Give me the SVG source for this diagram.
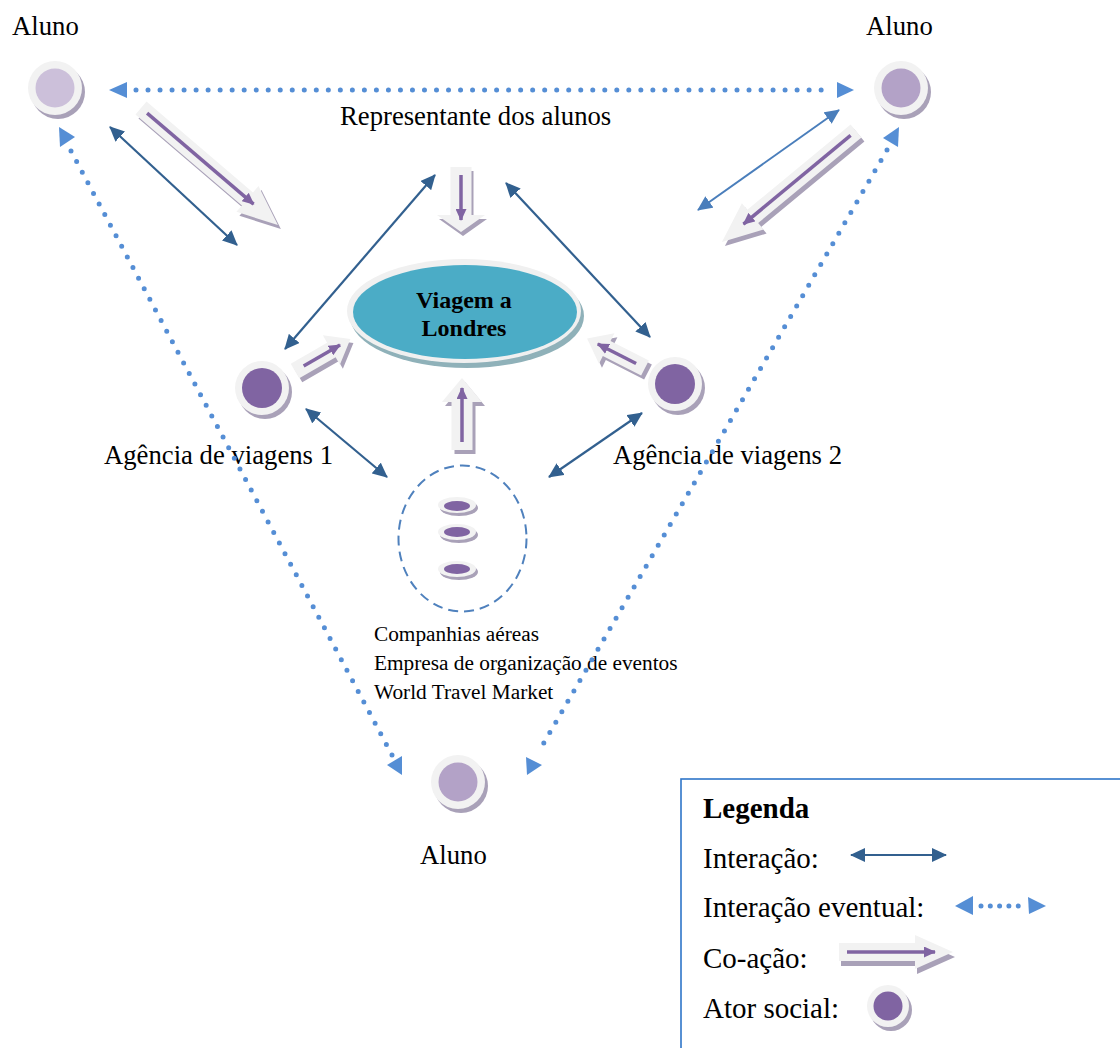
<svg xmlns="http://www.w3.org/2000/svg" width="1120" height="1048" viewBox="0 0 1120 1048">
<style>
.t{font-family:"Liberation Serif","Times New Roman",serif;fill:#000}
.lbl{font-size:26.7px}
.lst{font-size:21.3px}
.lg{font-size:29px}
.ring{fill:#f2f2f2}
.sh{fill:#a9a1b8}
.ca{fill:#f2f2f2}
.cas{fill:#a9a1b8}
.cal{stroke:#8064a2;stroke-width:3.5;fill:none;marker-end:url(#pm)}
.ia{stroke:#32608f;stroke-width:2.2;fill:none;marker-start:url(#ah);marker-end:url(#ah)}
.ia2{stroke:#4a7ebb;stroke-width:2;fill:none;marker-start:url(#ah2);marker-end:url(#ah2)}
.ev{stroke:#558ed5;stroke-width:5;stroke-linecap:round;fill:none}
.evh{fill:#558ed5}
</style>
<defs>
<marker id="ah" viewBox="0 0 15 14" refX="14" refY="7" markerWidth="15" markerHeight="14" markerUnits="userSpaceOnUse" orient="auto-start-reverse">
<path d="M0,0 L15,7 L0,14 z" fill="#32608f"/>
</marker>
<marker id="ah2" viewBox="0 0 15 14" refX="14" refY="7" markerWidth="15" markerHeight="14" markerUnits="userSpaceOnUse" orient="auto-start-reverse">
<path d="M0,0 L15,7 L0,14 z" fill="#4a7ebb"/>
</marker>
<marker id="pm" viewBox="0 0 12 11" refX="11" refY="5.5" markerWidth="12" markerHeight="11" markerUnits="userSpaceOnUse" orient="auto">
<path d="M0,0 L12,5.5 L0,11 z" fill="#8064a2"/>
</marker>
</defs>

<g id="viagem">
<ellipse cx="467" cy="316" rx="117" ry="52" fill="#8fb1b9"/>
<ellipse cx="464" cy="311" rx="117" ry="52" fill="#f0f0f0"/>
<ellipse cx="465" cy="312" rx="112" ry="47" fill="#4bacc6"/>
<text class="t" x="464" y="308" font-size="24" font-weight="bold" text-anchor="middle">Viagem a</text>
<text class="t" x="464" y="336" font-size="24" font-weight="bold" text-anchor="middle">Londres</text>
</g>

<g id="aluno-tl">
<circle cx="58" cy="92" r="27" class="sh"/>
<circle cx="55" cy="88" r="27" class="ring"/>
<circle cx="55" cy="88" r="19.5" fill="#ccc0da"/>
<text class="t lbl" x="12" y="35">Aluno</text>
</g>
<g id="aluno-tr">
<circle cx="904" cy="92" r="27" class="sh"/>
<circle cx="901" cy="88" r="27" class="ring"/>
<circle cx="901" cy="88" r="19.5" fill="#b3a2c7"/>
<text class="t lbl" x="866" y="35">Aluno</text>
</g>
<g id="aluno-b">
<circle cx="461" cy="786" r="27" class="sh"/>
<circle cx="458" cy="782" r="27" class="ring"/>
<circle cx="458" cy="782" r="19.5" fill="#b3a2c7"/>
<text class="t lbl" x="420" y="864">Aluno</text>
</g>
<g id="representante">
<text class="t lbl" x="340" y="125">Representante dos alunos</text>
</g>
<g id="agencia1">
<circle cx="265" cy="392" r="27" class="sh"/>
<circle cx="262" cy="388" r="27" class="ring"/>
<circle cx="262" cy="388" r="20" fill="#8064a2"/>
<text class="t lbl" x="104" y="464">Agência de viagens 1</text>
</g>
<g id="agencia2">
<circle cx="678" cy="388" r="27" class="sh"/>
<circle cx="675" cy="384" r="27" class="ring"/>
<circle cx="675" cy="384" r="20" fill="#8064a2"/>
<text class="t lbl" x="613" y="464">Agência de viagens 2</text>
</g>
<g id="empresas">
<ellipse cx="462.5" cy="538.5" rx="64" ry="73" fill="none" stroke="#4f81bd" stroke-width="2" stroke-dasharray="10 6"/>
<ellipse cx="459" cy="508" rx="19" ry="8" class="sh"/>
<ellipse cx="457" cy="505" rx="19" ry="8" class="ring"/>
<ellipse cx="457" cy="506" rx="13" ry="5" fill="#8064a2"/>
<ellipse cx="459" cy="535" rx="19" ry="8" class="sh"/>
<ellipse cx="457" cy="532" rx="19" ry="8" class="ring"/>
<ellipse cx="457" cy="532" rx="13" ry="5" fill="#8064a2"/>
<ellipse cx="459" cy="572" rx="19" ry="8" class="sh"/>
<ellipse cx="457" cy="569" rx="19" ry="8" class="ring"/>
<ellipse cx="457" cy="569" rx="13" ry="5" fill="#8064a2"/>
<text class="t lst" x="374" y="641">Companhias aéreas</text>
<text class="t lst" x="374" y="670">Empresa de organização de eventos</text>
<text class="t lst" x="374" y="699">World Travel Market</text>
</g>

<g id="connectors">
<!-- eventual interactions -->
<line class="ev" x1="136" y1="90" x2="833" y2="90" stroke-dasharray="0 12.02"/>
<polygon class="evh" points="109,90 127,82 127,98"/>
<polygon class="evh" points="854,90 837,82 837,98"/>
<line class="ev" x1="71" y1="151" x2="392" y2="755" stroke-dasharray="0 12"/>
<polygon class="evh" points="59,127 60,147 75,137"/>
<polygon class="evh" points="387,765 402,756 402,775"/>
<line class="ev" x1="887" y1="150" x2="538" y2="753" stroke-dasharray="0 12.02"/>
<polygon class="evh" points="883,138 899,127 898,147"/>
<polygon class="evh" points="526,757 527,775 542,765"/>
<!-- interactions -->
<line class="ia" x1="110" y1="127" x2="237" y2="245"/>
<line class="ia2" x1="839" y1="110" x2="698" y2="210"/>
<line class="ia" x1="285" y1="349" x2="435" y2="175"/>
<line class="ia" x1="506" y1="183" x2="650" y2="337"/>
<line class="ia" x1="306" y1="409" x2="387" y2="477"/>
<line class="ia" x1="549" y1="477" x2="642" y2="413"/>
<!-- co-actions -->
<g transform="translate(3,4) translate(141,108) rotate(40.5)"><polygon class="cas" points="0,-8.5 140,-8.5 140,-17 180,0 140,17 140,8.5 0,8.5"/></g>
<g transform="translate(141,108) rotate(40.5)"><polygon class="ca" points="0,-8.5 140,-8.5 140,-17 180,0 140,17 140,8.5 0,8.5"/><line class="cal" x1="8" y1="0" x2="148" y2="0"/></g>

<g transform="translate(3,4) translate(856,131) rotate(140.4)"><polygon class="cas" points="0,-8.5 134,-8.5 134,-17 174,0 134,17 134,8.5 0,8.5"/></g>
<g transform="translate(856,131) rotate(140.4)"><polygon class="ca" points="0,-8.5 134,-8.5 134,-17 174,0 134,17 134,8.5 0,8.5"/><line class="cal" x1="7" y1="0" x2="146" y2="0"/></g>

<g transform="translate(2,4) translate(461,167) rotate(90)"><polygon class="cas" points="0,-10.5 48,-10.5 48,-24 65,0 48,24 48,10.5 0,10.5"/></g>
<g transform="translate(461,167) rotate(90)"><polygon class="ca" points="0,-10.5 48,-10.5 48,-24 65,0 48,24 48,10.5 0,10.5"/><line class="cal" x1="8" y1="0" x2="53" y2="0"/></g>

<g transform="translate(3,4) translate(462,450) rotate(-90)"><polygon class="cas" points="0,-10.5 48,-10.5 48,-20 72,0 48,20 48,10.5 0,10.5"/></g>
<g transform="translate(462,450) rotate(-90)"><polygon class="ca" points="0,-10.5 48,-10.5 48,-20 72,0 48,20 48,10.5 0,10.5"/><line class="cal" x1="8" y1="0" x2="62" y2="0"/></g>

<g transform="translate(3,4) translate(295,371) rotate(-30)"><polygon class="cas" points="0,-8.5 42,-8.5 42,-17 64,0 42,17 42,8.5 0,8.5"/></g>
<g transform="translate(295,371) rotate(-30)"><polygon class="ca" points="0,-8.5 42,-8.5 42,-17 64,0 42,17 42,8.5 0,8.5"/><line class="cal" x1="10" y1="0" x2="52" y2="0"/></g>

<g transform="translate(3,4) translate(645,368) rotate(207)"><polygon class="cas" points="0,-8.5 43,-8.5 43,-17 65,0 43,17 43,8.5 0,8.5"/></g>
<g transform="translate(645,368) rotate(207)"><polygon class="ca" points="0,-8.5 43,-8.5 43,-17 65,0 43,17 43,8.5 0,8.5"/><line class="cal" x1="10" y1="0" x2="53" y2="0"/></g>
</g>

<g id="legenda">
<rect x="681" y="779" width="460" height="300" fill="#fff" stroke="#2e75c9" stroke-width="1.6"/>
<text class="t lg" x="703" y="818" font-weight="bold">Legenda</text>
<text class="t lg" x="703" y="868">Interação:</text>
<line class="ia" x1="851" y1="855" x2="946" y2="855"/>
<text class="t lg" x="703" y="917">Interação eventual:</text>
<line class="ev" x1="981" y1="906" x2="1019" y2="906" stroke-dasharray="0 9.3"/>
<polygon class="evh" points="955,906 973,896 973,915"/>
<polygon class="evh" points="1046,906 1028,897 1029,914"/>
<text class="t lg" x="703" y="968">Co-ação:</text>
<g transform="translate(2,5) translate(839,952)"><polygon class="cas" points="0,-9 76,-9 76,-17 114,0 76,17 76,9 0,9"/></g>
<g transform="translate(839,952)"><polygon class="ca" points="0,-9 76,-9 76,-17 114,0 76,17 76,9 0,9"/><line class="cal" x1="8" y1="0" x2="96" y2="0"/></g>
<text class="t lg" x="703" y="1018">Ator social:</text>
<circle cx="891" cy="1010" r="21" class="sh"/>
<circle cx="888" cy="1006" r="21" class="ring"/>
<circle cx="888" cy="1006" r="14.5" fill="#8064a2"/>
</g>
</svg>
